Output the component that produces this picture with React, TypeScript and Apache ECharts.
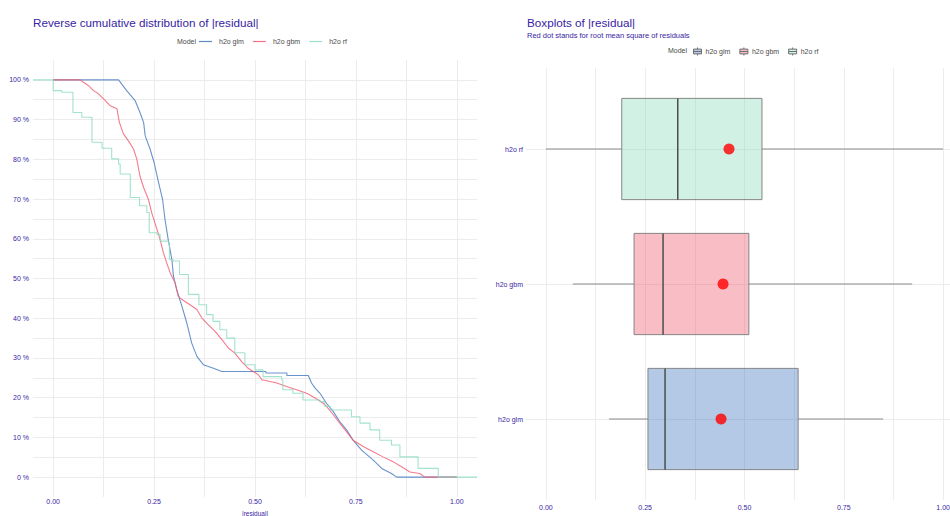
import React, { useEffect, useRef } from "react";
import * as echarts from "echarts";

// ---------- data ----------
const models = ["h2o glm", "h2o gbm", "h2o rf"];
const colors = ["#4378bf", "#f05a71", "#8bdcbe"];
const boxFills = ["rgba(67,120,191,0.4)", "rgba(240,90,113,0.4)", "rgba(139,220,190,0.4)"];

// reverse cumulative distribution: [|residual|, % of residuals above]
const glmCurve = [
  [0.0, 100], [0.162, 100], [0.182, 97.3], [0.203, 94.8], [0.215, 91.8], [0.224, 89.3],
  [0.228, 85.9], [0.24, 82.6], [0.25, 79.2], [0.261, 74.2], [0.271, 69.9], [0.277, 64.9],
  [0.285, 59.8], [0.294, 54.8], [0.298, 50.6], [0.306, 47.2], [0.319, 43.0], [0.331, 38.8],
  [0.343, 33.8], [0.356, 30.4], [0.372, 28.3], [0.397, 27.4], [0.418, 26.6], [0.527, 26.6],
  [0.527, 26.2], [0.579, 26.2], [0.579, 25.6], [0.632, 25.6], [0.64, 23.7], [0.649, 22.4],
  [0.661, 21.1], [0.677, 18.6], [0.694, 16.5], [0.71, 14.0], [0.727, 11.9], [0.743, 9.3],
  [0.764, 6.8], [0.793, 4.3], [0.814, 2.2], [0.838, 0.9], [0.851, 0], [1.0, 0],
];
const gbmCurve = [
  [0.0, 100], [0.067, 100], [0.075, 99.4], [0.087, 98.6], [0.1, 97.3], [0.112, 96.5],
  [0.125, 95.2], [0.141, 93.5], [0.158, 92.7], [0.164, 89.3], [0.174, 86.4], [0.186, 84.7],
  [0.199, 82.6], [0.207, 80.1], [0.215, 75.8], [0.224, 72.9], [0.236, 69.9], [0.244, 66.6],
  [0.257, 62.4], [0.265, 59.8], [0.273, 56.5], [0.281, 54.0], [0.29, 51.4], [0.302, 48.9],
  [0.31, 45.5], [0.319, 44.7], [0.339, 43.4], [0.356, 42.2], [0.368, 40.1], [0.384, 38.4],
  [0.401, 36.7], [0.418, 34.6], [0.434, 32.5], [0.45, 31.2], [0.467, 29.1], [0.483, 27.4],
  [0.508, 25.8], [0.517, 24.5], [0.554, 23.7], [0.578, 22.8], [0.603, 22.0], [0.628, 21.1],
  [0.649, 19.9], [0.669, 18.6], [0.677, 17.8], [0.694, 15.7], [0.71, 13.6], [0.727, 11.4],
  [0.743, 9.3], [0.768, 7.7], [0.793, 6.4], [0.817, 5.1], [0.842, 3.9], [0.863, 2.6],
  [0.884, 1.3], [0.908, 0.9], [0.921, 0], [1.0, 0],
];
const rfCurve = [
  [-0.05, 100], [0.0, 97.3], [0.021, 96.9], [0.049, 91.8], [0.071, 90.6], [0.096, 84.3],
  [0.121, 82.8], [0.145, 80.1], [0.162, 78.8], [0.166, 76.3], [0.191, 70.4], [0.214, 68.3],
  [0.232, 66.6], [0.238, 61.5], [0.257, 61.1], [0.265, 59.4], [0.286, 59.0], [0.288, 54.8],
  [0.297, 54.4], [0.313, 51.0], [0.335, 46.0], [0.361, 43.4], [0.38, 40.9], [0.396, 39.2],
  [0.413, 37.1], [0.43, 35.0], [0.45, 31.3], [0.475, 28.3], [0.5, 27.0], [0.52, 25.3],
  [0.566, 24.5], [0.569, 22.0], [0.594, 21.1], [0.619, 19.4], [0.661, 19.0], [0.673, 17.8],
  [0.686, 16.9], [0.739, 15.2], [0.76, 13.6], [0.785, 11.9], [0.809, 9.3], [0.838, 8.1],
  [0.859, 5.1], [0.904, 2.2], [0.954, 0], [1.05, 0],
];

// boxplot stats: [lower whisker, Q1, median, Q3, upper whisker]
const glmBox = [0.159, 0.257, 0.3, 0.635, 0.849];
const gbmBox = [0.068, 0.222, 0.295, 0.511, 0.922];
const rfBox = [0.0, 0.191, 0.332, 0.544, 1.0];
// root mean square of residuals (red dots)
const rmse = [0.441, 0.446, 0.461];

const xLabelTicks = [0, 0.25, 0.5, 0.75, 1];
const xGridTicks = [0, 0.125, 0.25, 0.375, 0.5, 0.625, 0.75, 0.875, 1];
const yLabelTicks = [0, 10, 20, 30, 40, 50, 60, 70, 80, 90, 100];
const yGridTicks = [0, 5, 10, 15, 20, 25, 30, 35, 40, 45, 50, 55, 60, 65, 70, 75, 80, 85, 90, 95, 100];
const boxPositions = [1, 2, 3];

// ---------- styles ----------
const FONT = "'Liberation Sans', Arial, sans-serif";
const PURPLE = "#371ea3";
const GRID_LINE = "#ececec";
const LEGEND_TEXT = "#4a4a4a";

export default function App() {
  const ref = useRef<HTMLDivElement>(null);

  useEffect(() => {
    if (!ref.current) return;
    const chart = echarts.init(ref.current, undefined, { renderer: "svg" });

    const curves = [glmCurve, gbmCurve, rfCurve];
    const boxes = [glmBox, gbmBox, rfBox];

    const lineSeries = models.map((name, i) => ({
      name,
      type: "line",
      xAxisIndex: 0,
      yAxisIndex: 0,
      data: curves[i],
      step: i === 2 ? "end" : false,
      symbol: "none",
      showSymbol: false,
      lineStyle: { color: colors[i], width: 1.1, opacity: 0.8 },
      itemStyle: { color: colors[i] },
      z: 3,
    }));

    const boxSeries = models.map((name, i) => ({
      name,
      type: "custom",
      xAxisIndex: 1,
      yAxisIndex: 1,
      itemStyle: { color: boxFills[i], borderColor: "#7f7f7f" },
      encode: { x: [1, 2, 3, 4, 5], y: 0 },
      data: [[boxPositions[i], ...boxes[i]]],
      renderItem: (params: any, api: any) => {
        const y = api.value(0);
        const lo = api.coord([api.value(1), y]);
        const q1 = api.coord([api.value(2), y]);
        const md = api.coord([api.value(3), y]);
        const q3 = api.coord([api.value(4), y]);
        const hi = api.coord([api.value(5), y]);
        const h = api.size([0, 0.75])[1];
        return {
          type: "group",
          children: [
            { type: "line", shape: { x1: lo[0], y1: lo[1], x2: q1[0], y2: q1[1] }, style: { stroke: "#8a8a8a", lineWidth: 1 } },
            { type: "line", shape: { x1: q3[0], y1: q3[1], x2: hi[0], y2: hi[1] }, style: { stroke: "#8a8a8a", lineWidth: 1 } },
            { type: "rect", shape: { x: q1[0], y: q1[1] - h / 2, width: q3[0] - q1[0], height: h }, style: { fill: boxFills[i], stroke: "#858585", lineWidth: 1 } },
            { type: "line", shape: { x1: md[0], y1: md[1] - h / 2, x2: md[0], y2: md[1] + h / 2 }, style: { stroke: "#4d4d4d", lineWidth: 1.5 } },
          ],
        };
      },
      z: 2,
    }));

    const dotSeries = {
      name: "RMSE",
      type: "scatter",
      xAxisIndex: 1,
      yAxisIndex: 1,
      data: rmse.map((v, i) => [v, boxPositions[i]]),
      symbol: "circle",
      symbolSize: 11,
      itemStyle: { color: "#ff0000" },
      z: 5,
    };

    const boxIcon = "path://M0,2 L10,2 L10,8 L0,8 Z M0,5 L10,5 M5,0 L5,2 M5,8 L5,10";

    const option: any = {
      animation: false,
      backgroundColor: "#ffffff",
      textStyle: { fontFamily: FONT },
      title: [
        {
          text: "Reverse cumulative distribution of |residual|",
          left: 33,
          top: 16,
          padding: 0,
          textStyle: { fontFamily: FONT, fontSize: 11.7, fontWeight: "normal", color: PURPLE },
        },
        {
          text: "Boxplots of |residual|",
          subtext: "Red dot stands for root mean square of residuals",
          left: 527,
          top: 16,
          padding: 0,
          itemGap: 3,
          textStyle: { fontFamily: FONT, fontSize: 11.7, fontWeight: "normal", color: PURPLE },
          subtextStyle: { fontFamily: FONT, fontSize: 7.5, color: PURPLE },
        },
      ],
      legend: [
        {
          left: 199,
          top: 38,
          padding: 0,
          itemWidth: 13,
          itemHeight: 1.2,
          itemGap: 9,
          selectedMode: false,
          data: models.map((m, i) => ({ name: m, icon: "rect", itemStyle: { color: colors[i], opacity: 0.85 } })),
          textStyle: { fontFamily: FONT, fontSize: 7, color: LEGEND_TEXT, padding: [0, 0, 0, 2] },
        },
        {
          left: 693,
          top: 47,
          padding: 0,
          itemWidth: 10,
          itemHeight: 8,
          itemGap: 9,
          selectedMode: false,
          data: models.map((m, i) => ({
            name: m,
            icon: boxIcon,
            itemStyle: { color: boxFills[i], borderColor: "#6f6f6f", borderWidth: 1 },
          })),
          textStyle: { fontFamily: FONT, fontSize: 7, color: LEGEND_TEXT, padding: [0, 0, 0, -2] },
        },
      ],
      graphic: [
        { type: "text", left: 177, top: 38, style: { text: "Model", fontFamily: FONT, fontSize: 7, fill: LEGEND_TEXT } },
        { type: "text", left: 668, top: 47, style: { text: "Model", fontFamily: FONT, fontSize: 7, fill: LEGEND_TEXT } },
      ],
      grid: [
        { left: 33, right: 473, top: 60, bottom: 19, outerBoundsMode: "none", containLabel: false },
        { left: 526, right: -13, top: 68, bottom: 16, outerBoundsMode: "none", containLabel: false },
      ],
      xAxis: [
        {
          type: "value",
          gridIndex: 0,
          min: -0.05,
          max: 1.05,
          name: "|residual|",
          nameLocation: "middle",
          nameGap: 7,
          nameTextStyle: { fontFamily: FONT, fontSize: 6.5, color: PURPLE, lineHeight: 7, verticalAlign: "top" },
          axisLine: { show: false },
          axisTick: { show: false, customValues: xGridTicks },
          axisLabel: {
            customValues: xLabelTicks,
            formatter: (v: number) => v.toFixed(2),
            fontFamily: FONT,
            fontSize: 7,
            color: PURPLE,
            margin: 1,
          },
          splitLine: { show: true, lineStyle: { color: GRID_LINE, width: 1 } },
        },
        {
          type: "value",
          gridIndex: 1,
          min: -0.05,
          max: 1.05,
          axisLine: { show: false },
          axisTick: { show: false, customValues: xGridTicks },
          axisLabel: {
            customValues: xLabelTicks,
            formatter: (v: number) => v.toFixed(2),
            fontFamily: FONT,
            fontSize: 7,
            color: PURPLE,
            margin: 4,
          },
          splitLine: { show: true, lineStyle: { color: GRID_LINE, width: 1 } },
        },
      ],
      yAxis: [
        {
          type: "value",
          gridIndex: 0,
          min: -5,
          max: 105,
          axisLine: { show: false },
          axisTick: { show: false, customValues: yGridTicks },
          axisLabel: {
            customValues: yLabelTicks,
            formatter: (v: number) => `${v} %`,
            fontFamily: FONT,
            fontSize: 7,
            color: PURPLE,
            margin: 4,
          },
          splitLine: { show: true, lineStyle: { color: GRID_LINE, width: 1 } },
        },
        {
          type: "value",
          gridIndex: 1,
          min: 0.4,
          max: 3.6,
          axisLine: { show: false },
          axisTick: { show: false, customValues: boxPositions },
          axisLabel: {
            customValues: boxPositions,
            formatter: (v: number) => models[Math.round(v) - 1] ?? "",
            fontFamily: FONT,
            fontSize: 7,
            color: PURPLE,
            margin: 3,
          },
          splitLine: { show: true, lineStyle: { color: GRID_LINE, width: 1 } },
        },
      ],
      series: [...lineSeries, ...boxSeries, dotSeries],
    };

    chart.setOption(option);
    return () => chart.dispose();
  }, []);

  return (
    <div
      ref={ref}
      style={{ position: "fixed", left: 0, top: 0, width: 950, height: 516, background: "#fff" }}
    />
  );
}
